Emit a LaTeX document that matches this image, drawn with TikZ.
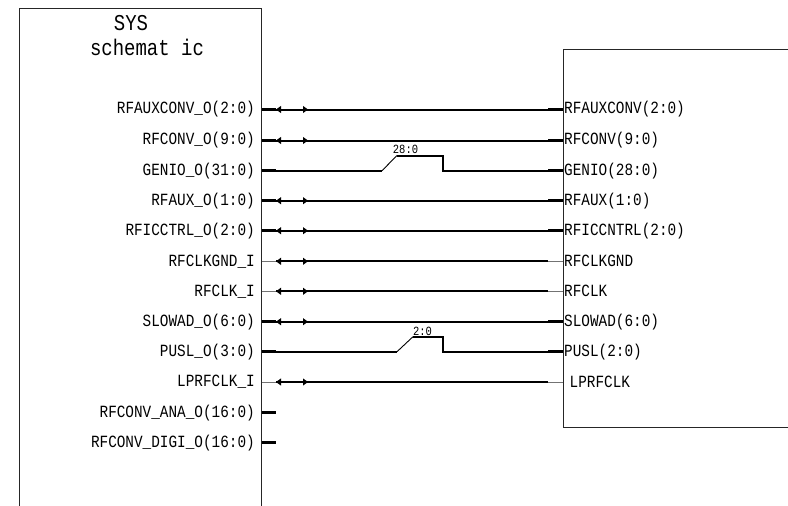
\documentclass[tikz,border=0pt]{standalone}
\usepackage{fontspec}
\newfontfamily\cadfont[FakeStretch=0.84]{Liberation Mono}
\usetikzlibrary{decorations.markings}
\tikzset{
  box/.style = {draw=black!85, line width=0.9pt},
  titletext/.style = {inner sep=0pt, font=\cadfont\fontsize{22.6}{22.6}\selectfont},
  lbl/.style = {inner ysep=0pt, font=\cadfont\fontsize{17.1}{17.1}\selectfont},
  lpin/.style = {lbl, anchor=east, inner xsep=6.5pt},% label inside left box
  rpin/.style = {lbl, anchor=west, inner xsep=1pt},% label inside right box
  widthlbl/.style = {inner sep=0pt, font=\cadfont\fontsize{12.5}{12.5}\selectfont},
  buspin/.style = {line width=3.2pt},% thick stub
  thinpin/.style = {draw=black!55, line width=0.9pt},% thin stub
  wire/.style = {line width=2pt},
  jog/.style = {line width=0.9pt},
  biwire/.style = {wire, postaction={decorate}, decoration={markings,
      mark=at position 2.5pt with {\fill (-2.5pt,0pt) -- (2.5pt,3.6pt) -- (2.5pt,-3.6pt) -- cycle;},
      mark=at position 29.5pt with {\fill (2.5pt,0pt) -- (-2.5pt,3.6pt) -- (-2.5pt,-3.6pt) -- cycle;}}}
}

\begin{document}
\begin{tikzpicture}[x=1pt,y=-1pt]
\useasboundingbox (0,0) rectangle (788,506);
\clip (0,0) rectangle (788,506);
% blocks
\draw[box] (19.5,506) |- (261.5,8) -- (261.5,506);
\draw[box] (788,49) -| (563,427) -- (788,427);
\node [titletext] (sys) at (131,23) {SYS};
\node [titletext] (schem) at (147,47) {schemat ic};
% labels, left block
\node [lpin] (l1) at (261.5,109.5) {RFAUXCONV\_O(2:0)};
\node [lpin] (l2) at (261.5,140.5) {RFCONV\_O(9:0)};
\node [lpin] (l3) at (261.5,170.7) {GENIO\_O(31:0)};
\node [lpin] (l4) at (261.5,200.7) {RFAUX\_O(1:0)};
\node [lpin] (l5) at (261.5,230.7) {RFICCTRL\_O(2:0)};
\node [lpin] (l6) at (261.5,261.3) {RFCLKGND\_I};
\node [lpin] (l7) at (261.5,291.3) {RFCLK\_I};
\node [lpin] (l8) at (261.5,321.7) {SLOWAD\_O(6:0)};
\node [lpin] (l9) at (261.5,351.7) {PUSL\_O(3:0)};
\node [lpin] (l10) at (261.5,382) {LPRFCLK\_I};
\node [lpin] (l11) at (261.5,412.7) {RFCONV\_ANA\_O(16:0)};
\node [lpin] (l12) at (261.5,442.7) {RFCONV\_DIGI\_O(16:0)};
% labels, right block
\node [rpin] (r1) at (563,109.5) {RFAUXCONV(2:0)};
\node [rpin] (r2) at (563,140.5) {RFCONV(9:0)};
\node [rpin] (r3) at (563,170.7) {GENIO(28:0)};
\node [rpin] (r4) at (563,200.7) {RFAUX(1:0)};
\node [rpin] (r5) at (563,230.7) {RFICCNTRL(2:0)};
\node [rpin] (r6) at (563,261.3) {RFCLKGND};
\node [rpin] (r7) at (563,291.3) {RFCLK};
\node [rpin] (r8) at (563,321.7) {SLOWAD(6:0)};
\node [rpin] (r9) at (563,351.7) {PUSL(2:0)};
\node [rpin, inner xsep=6.5pt] (r10) at (563,382) {LPRFCLK};
% stub ends
\foreach \n/\y in {1/109.5,2/140.5,3/170.7,4/200.7,5/230.7,6/261.3,7/291.3,8/321.7,9/351.7,10/382}{
  \coordinate (a\n) at (276,\y);
  \coordinate (b\n) at (548,\y);
}
\coordinate (a11) at (276,412.7);
\coordinate (a12) at (276,442.7);
% stubs
\foreach \n in {1,2,3,4,5,8,9,11,12}
  \draw[buspin] (l\n.east) -- (a\n);
\foreach \n in {6,7,10}
  \draw[thinpin] (l\n.east) -- (a\n);
\foreach \n in {1,2,3,4,5,8,9}
  \draw[buspin] (b\n) -- (r\n.west);
\foreach \n in {6,7,10}
  \draw[thinpin] (b\n) -- (r\n.west);
% wires
\foreach \n in {1,2,4,5,6,7,8,10}
  \draw[biwire] (a\n) -- (b\n);
% GENIO
\coordinate (j3) at (382,170.7);
\coordinate (k3) at (397,155.5);
\coordinate (m3) at (442.5,155.5);
\coordinate (n3) at (442.5,170.7);
\draw[wire] (a3) -- (j3);
\draw[jog] (j3) -- (k3);
\draw[wire] (k3) -- (m3) -- (n3) -- (b3);
\node [widthlbl] (w3) at (405.5,149.5) {28:0};
% PUSL
\coordinate (j9) at (397,351.7);
\coordinate (k9) at (413,336.7);
\coordinate (m9) at (442.5,336.7);
\coordinate (n9) at (442.5,351.7);
\draw[wire] (a9) -- (j9);
\draw[jog] (j9) -- (k9);
\draw[wire] (k9) -- (m9) -- (n9) -- (b9);
\node [widthlbl] (w9) at (422.5,331) {2:0};
\end{tikzpicture}
\end{document}
